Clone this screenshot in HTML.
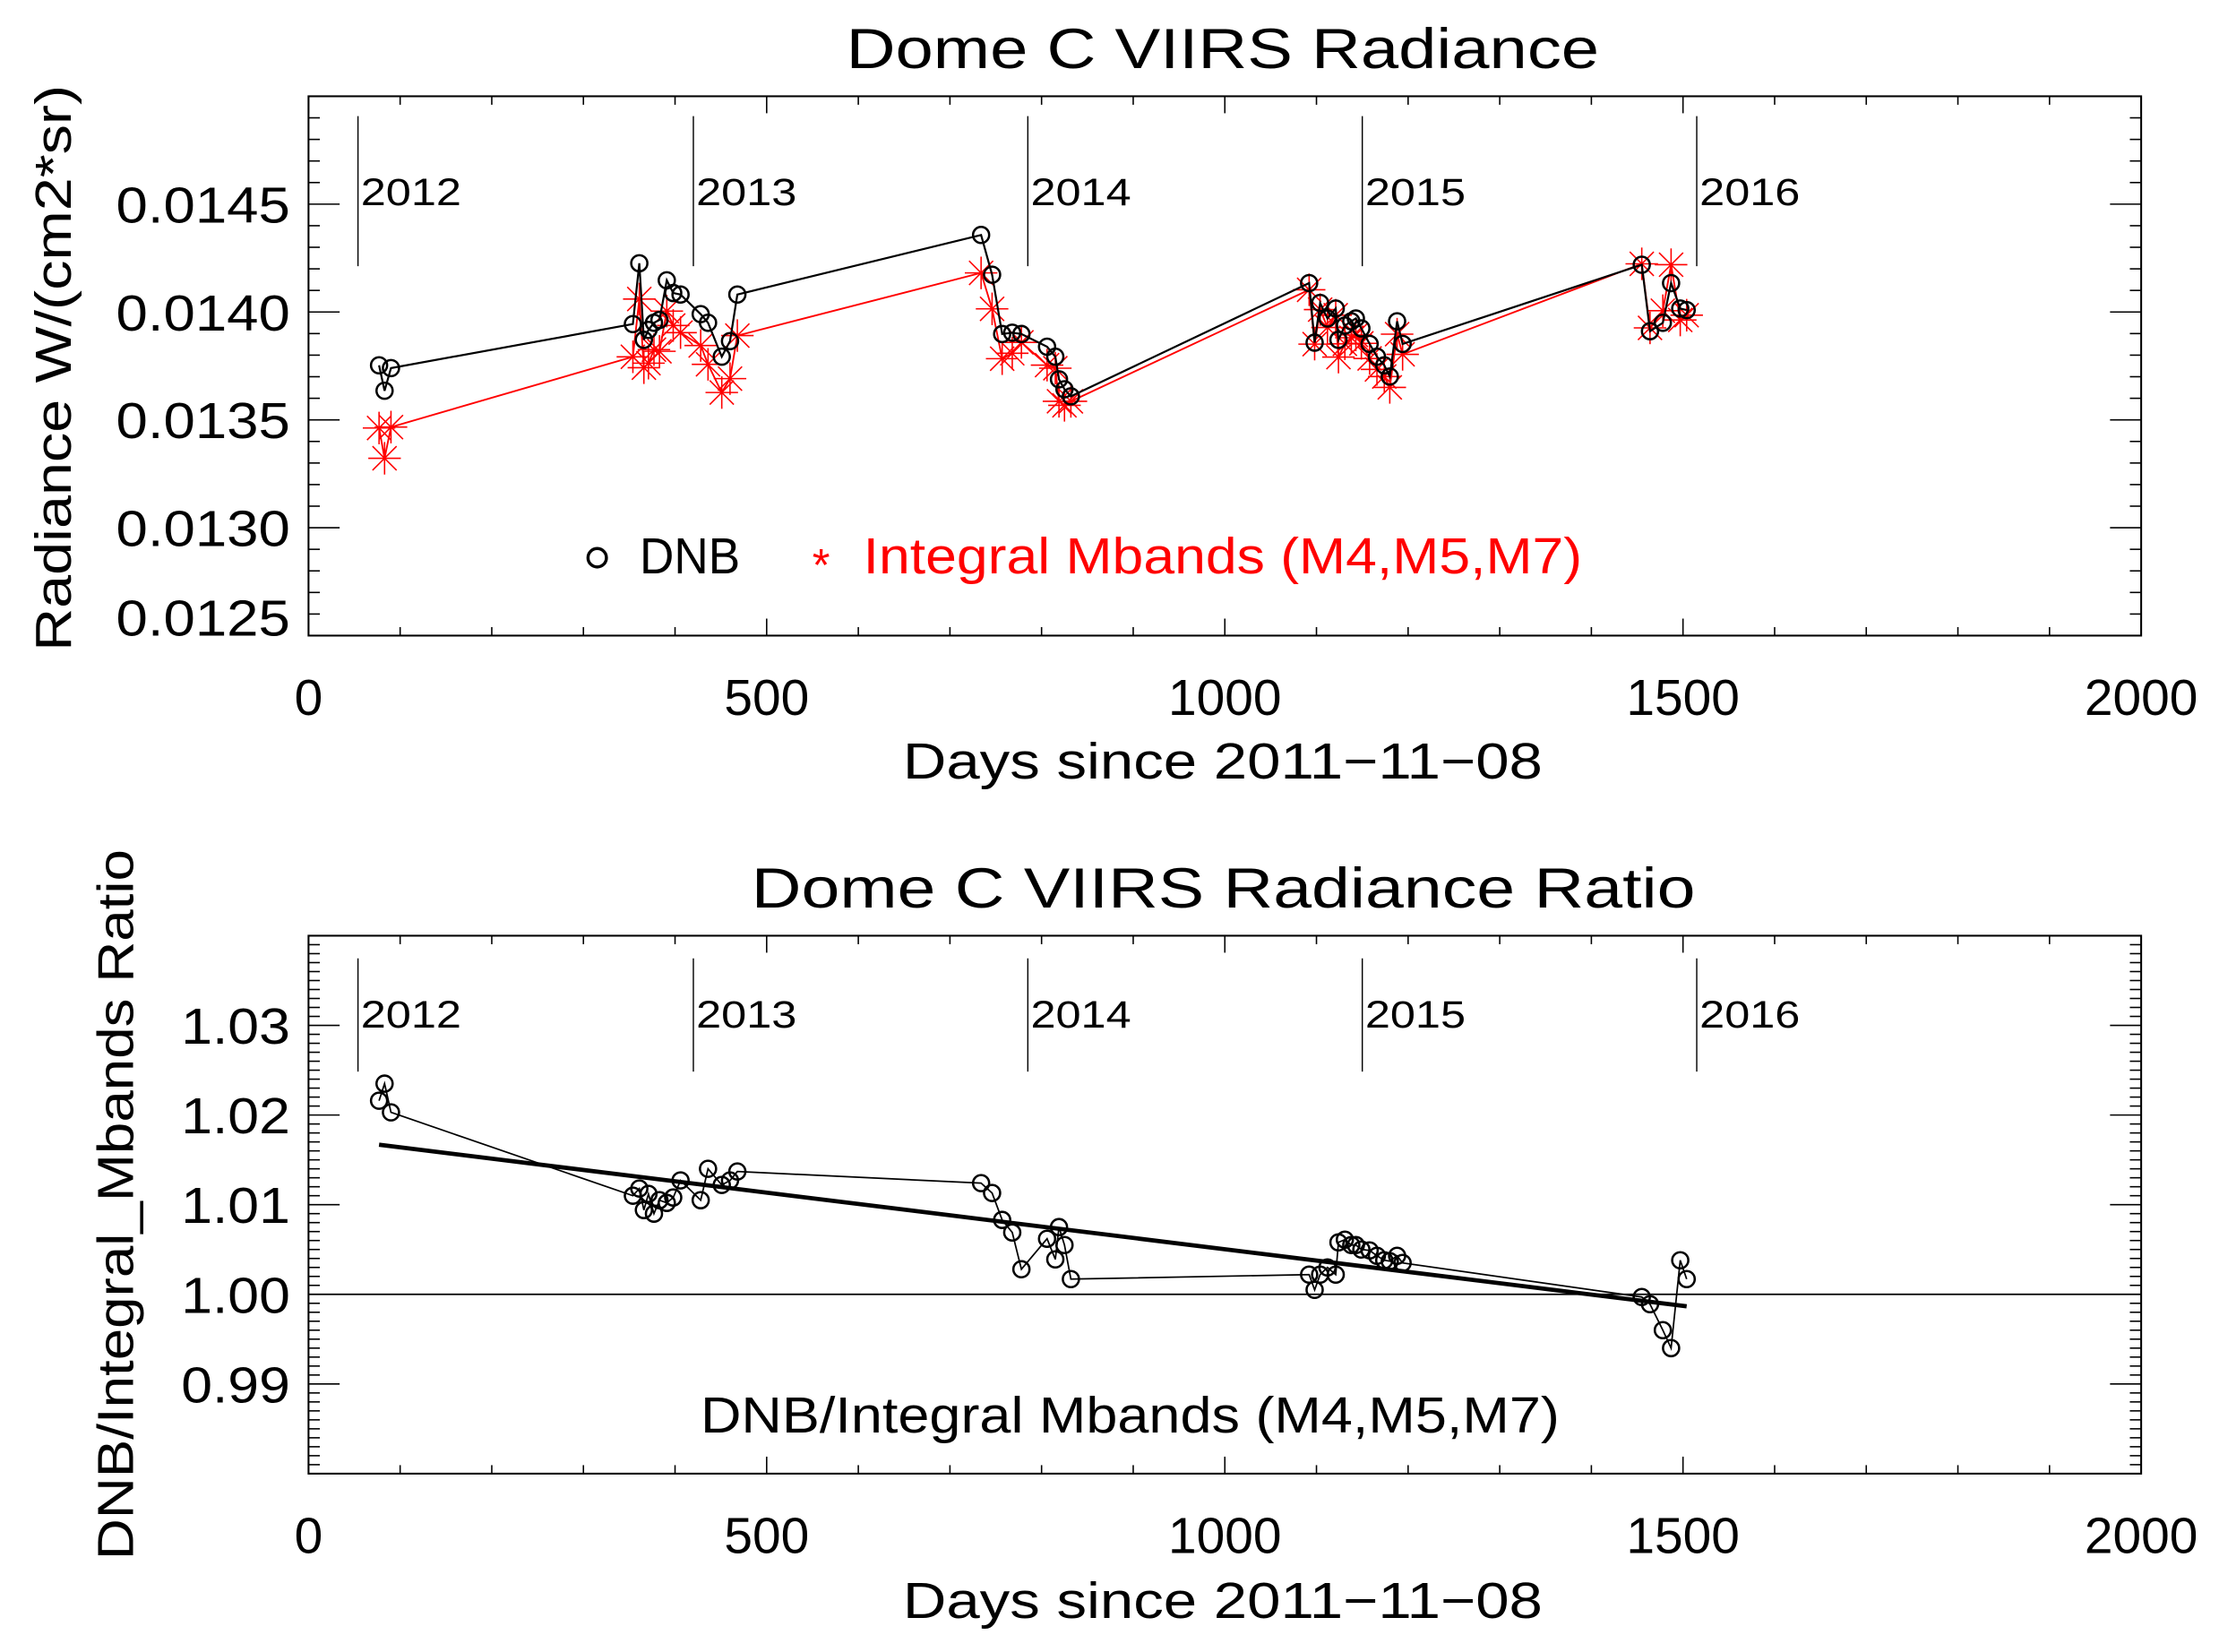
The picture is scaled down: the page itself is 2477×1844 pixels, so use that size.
<!DOCTYPE html>
<html><head><meta charset="utf-8"><style>
html,body{margin:0;padding:0;background:#fff}
svg{display:block}
text{font-family:"Liberation Sans",sans-serif}
</style></head><body>
<svg id="fig" width="2477" height="1844" viewBox="0 0 1568 1167" preserveAspectRatio="none" xmlns="http://www.w3.org/2000/svg">
<text x="598" y="48" font-size="40" textLength="532" lengthAdjust="spacingAndGlyphs">Dome C VIIRS Radiance</text>
<text x="531" y="641" font-size="40" textLength="667" lengthAdjust="spacingAndGlyphs">Dome C VIIRS Radiance Ratio</text>
<text x="638" y="550" font-size="36" textLength="452" lengthAdjust="spacingAndGlyphs">Days since 2011−11−08</text>
<text x="638" y="1143" font-size="36" textLength="452" lengthAdjust="spacingAndGlyphs">Days since 2011−11−08</text>
<text transform="translate(50,460) rotate(-90)" font-size="36" textLength="400" lengthAdjust="spacingAndGlyphs">Radiance W/(cm2*sr)</text>
<text transform="translate(94,1102) rotate(-90)" font-size="36" textLength="502" lengthAdjust="spacingAndGlyphs">DNB/Integral_Mbands Ratio</text>
<g>
<circle cx="422" cy="394" r="6.5" fill="none" stroke="#000" stroke-width="2.2"/>
<text x="452" y="405" font-size="36" textLength="71" lengthAdjust="spacingAndGlyphs">DNB</text>
<text x="574" y="410" font-size="32" fill="#ff0000">*</text>
<text x="610" y="405" font-size="36" fill="#ff0000" textLength="508" lengthAdjust="spacingAndGlyphs">Integral Mbands (M4,M5,M7)</text>
</g>
<text x="495" y="1012" font-size="36" textLength="607" lengthAdjust="spacingAndGlyphs">DNB/Integral Mbands (M4,M5,M7)</text>
<g id="top"></g>
<g id="bot"></g>
</svg>
<script>
const days = [77,83,90,354,361,366,371,377,383,391,398,406,428,436,451,460,468,734,746,757,768,778,806,815,819,825,832,1092,1098,1104,1112,1121,1124,1131,1138,1143,1149,1158,1166,1174,1180,1188,1194,1455,1464,1478,1487,1497,1504];
const dnb = [0.013753,0.013635,0.013740,0.013944,0.014226,0.013871,0.013917,0.013950,0.013963,0.014147,0.014088,0.014081,0.013990,0.013950,0.013793,0.013865,0.014081,0.014357,0.014173,0.013898,0.013904,0.013898,0.013839,0.013793,0.013688,0.013642,0.013609,0.014134,0.013858,0.014042,0.013970,0.014016,0.013871,0.013937,0.013957,0.013970,0.013924,0.013852,0.013793,0.013753,0.013701,0.013957,0.013852,0.014219,0.013911,0.013950,0.014134,0.014016,0.014009];
const ratio = [1.0216,1.0235,1.0203,1.0110,1.0118,1.0094,1.0112,1.0090,1.0105,1.0102,1.0108,1.0127,1.0105,1.0140,1.0122,1.0127,1.0137,1.0124,1.0113,1.0083,1.0069,1.0028,1.0062,1.0039,1.0075,1.0055,1.0017,1.0022,1.0005,1.0022,1.0030,1.0022,1.0058,1.0061,1.0055,1.0055,1.0050,1.0049,1.0043,1.0038,1.0037,1.0043,1.0035,0.9997,0.9989,0.9960,0.9940,1.0038,1.0017];
const yearLabels = ["2012","2013","2014","2015","2016"];
const yearDays = [54,420,785,1150,1515];
const xTicks = [0,500,1000,1500,2000];
const topYTicks = [0.0125,0.0130,0.0135,0.0140,0.0145];
const topYLabels = ["0.0125","0.0130","0.0135","0.0140","0.0145"];
const botYTicks = [0.99,1.00,1.01,1.02,1.03];
const botYLabels = ["0.99","1.00","1.01","1.02","1.03"];

const NS="http://www.w3.org/2000/svg";
function mk(parent,tag,attrs){const e=document.createElementNS(NS,tag);for(const k in attrs)e.setAttribute(k,attrs[k]);parent.appendChild(e);return e;}
const X0=218,X1=1513;
function sx(d){return X0+(d-0)/(2000-0)*(X1-X0);}

function frame(g,Y0,Y1,ymin,ymax,ticks,labels,minorStep,labelOffsets,prefix,labelW){
  const sy=v=>Y1-(v-ymin)/(ymax-ymin)*(Y1-Y0);
  const r=mk(g,'rect',{x:X0,y:Y0,width:X1-X0,height:Y1-Y0,fill:'none',stroke:'#000','stroke-width':1.3});
  
  
  for(let d=0;d<=2000;d+=100){
    const major=d%500===0, L=major?12:6, x=sx(d);
    const t1=mk(g,'line',{x1:x,x2:x,y1:Y1,y2:Y1-L,stroke:'#000','stroke-width':1});
    
    
    const t2=mk(g,'line',{x1:x,x2:x,y1:Y0,y2:Y0+L,stroke:'#000','stroke-width':1});
    
    
  }
  xTicks.forEach(d=>{
    const t=mk(g,'text',{x:sx(d),y:Y1+56,'font-size':36,'text-anchor':'middle'});t.textContent=String(d);
    
    
  });
  const n=Math.round((ymax-ymin)/minorStep);
  for(let i=0;i<=n;i++){
    const v=ymin+i*minorStep,y=sy(v);
    const major=ticks.some(t=>Math.abs(t-v)<minorStep/10);const L=major?22:8;
    const a=mk(g,'line',{x1:X0,x2:X0+L,y1:y,y2:y,stroke:'#000','stroke-width':1});
    
    
    const b=mk(g,'line',{x1:X1,x2:X1-L,y1:y,y2:y,stroke:'#000','stroke-width':1});
    
    
  }
  ticks.forEach((v,i)=>{
    const t=mk(g,'text',{x:205-labelW,y:sy(v)+13+labelOffsets[i],'font-size':36,textLength:labelW,lengthAdjust:'spacingAndGlyphs'});t.textContent=labels[i];
    
    
  });
  return sy;
}
function years(g,ya,yb,ly,prefix){
  yearDays.forEach((d,i)=>{
    const x=sx(d);
    const l=mk(g,'line',{x1:x,x2:x,y1:ya,y2:yb,stroke:'#000','stroke-width':0.9});
    
    
    const t=mk(g,'text',{x:x+2,y:ly,'font-size':27,textLength:71,lengthAdjust:'spacingAndGlyphs'});t.textContent=yearLabels[i];
    
    
  });
}
function circle(g,x,y,name){
  const c=mk(g,'circle',{cx:x,cy:y,r:5.7,fill:'none',stroke:'#000','stroke-width':1.6});
  
  
}
function star(g,x,y){
  const s=mk(g,'g',{stroke:'#ff0000','stroke-width':1});
  
  
  const h=11.5,dd=8.5;
  mk(s,'line',{x1:x-h,x2:x+h,y1:y,y2:y});
  mk(s,'line',{x1:x,x2:x,y1:y-h,y2:y+h});
  mk(s,'line',{x1:x-dd,x2:x+dd,y1:y-dd,y2:y+dd});
  mk(s,'line',{x1:x-dd,x2:x+dd,y1:y+dd,y2:y-dd});
}

// TOP
const gt=document.getElementById('top');
const syT=frame(gt,68,449,0.0125,0.0150,topYTicks,topYLabels,0.0001,[-13,0,0,0,0],'top',123);
years(gt,82,188,145,'top');
const mband=dnb.map((v,i)=>v/ratio[i]);
const redPts=days.map((d,i)=>sx(d)+','+syT(mband[i])).join(' ');
const rl=mk(gt,'polyline',{points:redPts,fill:'none',stroke:'#ff0000','stroke-width':1.2});


days.forEach((d,i)=>star(gt,sx(d),syT(mband[i])));
const blkPts=days.map((d,i)=>sx(d)+','+syT(dnb[i])).join(' ');
const bl=mk(gt,'polyline',{points:blkPts,fill:'none',stroke:'#000','stroke-width':1.4});


days.forEach((d,i)=>circle(gt,sx(d),syT(dnb[i]),'dnb-point'));

// BOTTOM
const gb=document.getElementById('bot');
const syB=frame(gb,661,1041,0.980,1.040,botYTicks,botYLabels,0.001,[0,0,0,0,0],'bottom',77);
years(gb,677,757,726,'bottom');
const ref=mk(gb,'line',{x1:X0,x2:X1,y1:syB(1),y2:syB(1),stroke:'#000','stroke-width':1.1});


const rp=days.map((d,i)=>sx(d)+','+syB(ratio[i])).join(' ');
const rline=mk(gb,'polyline',{points:rp,fill:'none',stroke:'#000','stroke-width':1.1});


days.forEach((d,i)=>circle(gb,sx(d),syB(ratio[i]),'ratio-point'));
// least squares fit
const n=days.length;let mx=0,my=0;days.forEach((d,i)=>{mx+=d;my+=ratio[i];});mx/=n;my/=n;
let sxy=0,sxx=0;days.forEach((d,i)=>{sxy+=(d-mx)*(ratio[i]-my);sxx+=(d-mx)*(d-mx);});
const slope=sxy/sxx,icpt=my-slope*mx;
const dA=days[0],dB=days[n-1];
const fit=mk(gb,'line',{x1:sx(dA),x2:sx(dB),y1:syB(icpt+slope*dA),y2:syB(icpt+slope*dB),stroke:'#000','stroke-width':3});


</script>
</body></html>
